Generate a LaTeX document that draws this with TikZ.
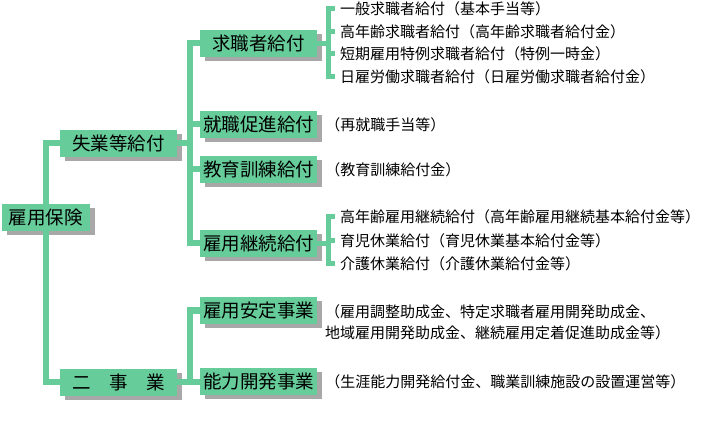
\documentclass[tikz,border=0pt]{standalone}
\usepackage{fontspec}
\setmainfont{Noto Sans CJK JP}
\usetikzlibrary{positioning, shadows}
\definecolor{boxgreen}{RGB}{102,204,153}
\definecolor{shadowgray}{RGB}{168,168,168}

\begin{document}
\begin{tikzpicture}[
        x=1pt, y=-1pt,
        node distance=8pt and 8pt,
        box/.style={rectangle, fill=boxgreen, minimum width=117pt, minimum height=27pt, inner sep=0pt, font=\fontsize{18.5}{20}\selectfont, drop shadow={shadow xshift=5pt, shadow yshift=-4pt, fill=shadowgray, opacity=1}},
        item/.style={anchor=west, inner sep=0pt, font=\fontsize{15}{21}\selectfont},
        link/.style={draw=boxgreen, line width=6pt},
        brace/.style={draw=boxgreen, line width=5pt}
    ]
    \useasboundingbox (0,0) rectangle (706,443);

    % Root
    \node [box, minimum width=88pt] (hoken) at (46,217.5) {雇用保険};

    % Level 1
    \node [box] (shitsugyo) at (118.5,143.5) {失業等給付};
    \node [box] (jigyo) at (118.5,382) {二　事　業};

    % Level 2: benefits
    \node [box] (kyushoku) at (258.5,43.5) {求職者給付};
    \node [box] (sokushin) at (258.5,124.5) {就職促進給付};
    \node [box] (kyoiku) at (258.5,169.5) {教育訓練給付};
    \node [box] (keizoku) at (258.5,243.5) {雇用継続給付};

    % Level 2: projects
    \node [box] (antei) at (258.5,310.5) {雇用安定事業};
    \node [box] (kaihatsu) at (258.5,381.5) {能力開発事業};

    % Items of job seeker benefits
    \node [item] (ippan) at (340,8.5) {一般求職者給付（基本手当等）};
    \node [item] (konen) at (340,31.5) {高年齢求職者給付（高年齢求職者給付金）};
    \node [item] (tanki) at (340,54) {短期雇用特例求職者給付（特例一時金）};
    \node [item] (hiyatoi) at (340,77) {日雇労働求職者給付（日雇労働求職者給付金）};

    % Items of continued employment benefits
    \node [item] (konenkeizoku) at (340,217) {高年齢雇用継続給付（高年齢雇用継続基本給付金等）};
    \node [item] (ikuji) at (340,240.5) {育児休業給付（育児休業基本給付金等）};
    \node [item] (kaigo) at (340,264) {介護休業給付（介護休業給付金等）};

    % Notes
    \node [item, right=8pt of sokushin] (sokushinnote) {（再就職手当等）};
    \node [item, right=8pt of kyoiku] (kyoikunote) {（教育訓練給付金）};
    \node [item, align=left] (anteinote) at (325,322.5) {（雇用調整助成金、特定求職者雇用開発助成金、\\地域雇用開発助成金、継続雇用定着促進助成金等）};
    \node [item, right=8pt of kaihatsu] (kaihatsunote) {（生涯能力開発給付金、職業訓練施設の設置運営等）};

    % Connecting Lines
    \coordinate (bus1) at (190,143.5);
    \coordinate (bus2) at (190,382);
    \draw [link] (hoken.north) |- (shitsugyo.west);
    \draw [link] (hoken.south) |- (jigyo.west);

    \draw [link] (shitsugyo.east) -- (bus1);
    \foreach \c in {kyushoku, sokushin, kyoiku, keizoku}
        \draw [link] (bus1) |- (\c.west);

    \draw [link] (jigyo.east) -- (bus2);
    \foreach \c in {antei, kaihatsu}
        \draw [link] (bus2) |- (\c.west);

    % Brackets
    \coordinate (brk1) at (328,43.5);
    \coordinate (brk2) at (328,243.5);
    \draw [brace] (kyushoku.east) -- (brk1);
    \foreach \c in {ippan, konen, tanki, hiyatoi}
        \draw [brace] (brk1) |- ([xshift=-5pt]\c.west);
    \draw [brace] (keizoku.east) -- (brk2);
    \foreach \c in {konenkeizoku, ikuji, kaigo}
        \draw [brace] (brk2) |- ([xshift=-5pt]\c.west);

\end{tikzpicture}
\end{document}
